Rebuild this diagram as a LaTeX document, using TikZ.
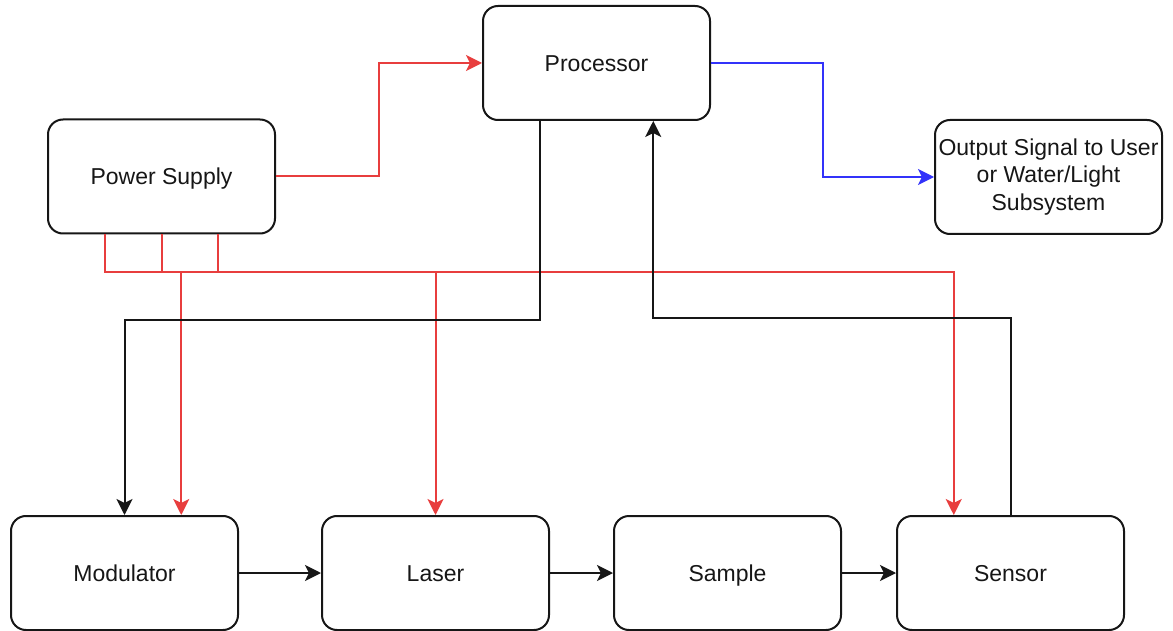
\documentclass[tikz,border=0pt]{standalone}
\usepackage{fontspec}
\setmainfont{Liberation Sans}
\usetikzlibrary{arrows.meta}
\definecolor{pwr}{RGB}{232,62,62}
\definecolor{sig}{RGB}{50,50,250}
\definecolor{ink}{RGB}{22,22,22}
\begin{document}
\begin{tikzpicture}[x=1pt,y=-1pt,
  block/.style={draw=ink, line width=2pt, rounded corners=15pt,
    minimum width=227pt, minimum height=114pt, inner sep=0pt,
    align=center, text=ink, font=\fontsize{23}{27.5}\selectfont},
  oneline/.style={block, text height=16.5pt, text depth=0pt},
  tip/.style={-{Stealth[length=16pt,width=16pt,inset=4pt]}},
  wire/.style={line width=2pt, ink, tip},
  power/.style={line width=2pt, pwr, tip},
  data/.style={line width=2pt, sig, tip}]
\useasboundingbox (0,0) rectangle (1173,631);

% top row
\node[oneline] (proc) at (596.5,63) {Processor};
\node[oneline] (psu)  at (161.5,176.5) {Power Supply};
\node[block] (out)  at (1048.5,177) {Output Signal to User\\or Water/Light\\Subsystem};

% signal chain
\node[oneline] (mod)    at (124.5,573) {Modulator};
\node[oneline] (laser)  at (435.5,573) {Laser};
\node[oneline] (sample) at (727.5,573) {Sample};
\node[oneline] (sensor) at (1010.5,573) {Sensor};

% power distribution
\draw[power] (psu.east) -- ++(103,0) |- (proc.west);
\draw[power] ([xshift=-56.75pt]psu.south) -- ++(0,37.5) -| ([xshift=56.75pt]mod.north);
\draw[power] (psu.south) -- ++(0,37.5) -| (laser.north);
\draw[power] ([xshift=56.75pt]psu.south) -- ++(0,37.5) -| ([xshift=-56.75pt]sensor.north);

% control and feedback
\draw[wire] ([xshift=-56.75pt]proc.south) -- ++(0,199) -| (mod.north);
\draw[wire] (sensor.north) -- ++(0,-197) -| ([xshift=56.75pt]proc.south);

% output
\draw[data] (proc.east) -- ++(112,0) |- (out.west);

% optical path
\draw[wire] (mod.east) -- (laser.west);
\draw[wire] (laser.east) -- (sample.west);
\draw[wire] (sample.east) -- (sensor.west);
\end{tikzpicture}
\end{document}
